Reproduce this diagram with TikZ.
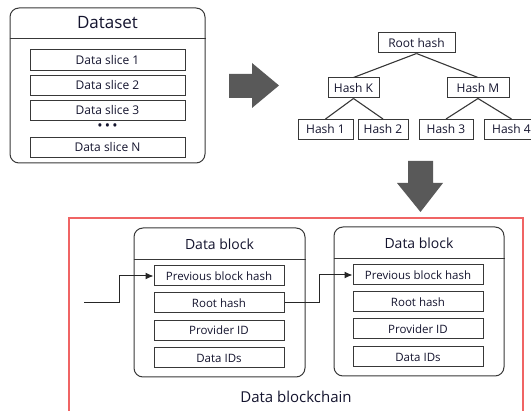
\documentclass[tikz,border=0pt]{standalone}
\usepackage{fontspec}
\setmainfont{Open Sans}
\usetikzlibrary{arrows.meta}
\definecolor{txt}{HTML}{14142E}
\definecolor{bord}{HTML}{383838}
\definecolor{afill}{HTML}{595959}
\definecolor{redframe}{HTML}{F06464}
\tikzset{
  x=1pt, y=-1pt,
  every node/.style={text=txt, inner sep=0pt},
  fieldbox/.style={draw=bord, line width=1pt, minimum width=#1, minimum height=20pt, font=\fontsize{11.5}{12}\selectfont},
  fieldbox/.default=130pt,
  slicebox/.style={draw=bord, line width=1pt, minimum width=155pt, minimum height=20.5pt, font=\fontsize{12}{13}\selectfont},
  hashbox/.style={draw=bord, line width=1pt, minimum height=20pt, font=\fontsize{12}{13}\selectfont},
  outerbox/.style={draw=bord, line width=1pt, rounded corners=9pt},
  treeline/.style={draw=bord, line width=1.1pt},
  conn/.style={draw=black!85, line width=1pt},
  bigarrow/.style={fill=afill, draw=none},
}
\begin{document}
\begin{tikzpicture}
\useasboundingbox (0,0) rectangle (531,411);
% ---------- Dataset ----------
\node[outerbox, minimum width=195pt, minimum height=155pt] (ds) at (107.5,85.5) {};
\node[font=\fontsize{17}{18}\selectfont] (dst) at (107.5,23) {Dataset};
\draw[draw=bord, line width=1pt] (ds.west |- 0,39) -- (ds.east |- 0,39);
\node[slicebox] (s1) at (107.5,60) {Data slice 1};
\node[slicebox] (s2) at (107.5,85.5) {Data slice 2};
\node[slicebox] (s3) at (107.5,110.5) {Data slice 3};
\node[font=\fontsize{14}{14}\selectfont] (dots) at (107.5,127.5) {\textbullet\,\textbullet\,\textbullet};
\node[slicebox] (sN) at (107.5,147.5) {Data slice N};
% ---------- big arrows ----------
\fill[bigarrow] (229,74) -- (252,74) -- (252,63) -- (279,85.5) -- (252,108) -- (252,98) -- (229,98) -- cycle;
\fill[bigarrow] (408,161) -- (433,161) -- (433,183) -- (443,183) -- (420.5,212) -- (397,183) -- (408,183) -- cycle;
% ---------- Merkle tree ----------
\node[hashbox, minimum width=77pt] (root) at (416.5,43) {Root hash};
\node[hashbox, minimum width=51pt] (hk) at (353.5,88) {Hash K};
\node[hashbox, minimum width=62pt] (hm) at (478,88) {Hash M};
\node[hashbox, minimum width=55pt] (h1) at (325.5,129.5) {Hash 1};
\node[hashbox, minimum width=50pt] (h2) at (383,129.5) {Hash 2};
\node[hashbox, minimum width=54pt] (h3) at (446,129.5) {Hash 3};
\node[hashbox, minimum width=54pt, anchor=west] (h4) at (484,129.5) {Hash 4};
\draw[treeline] (root.south) -- (hk.north);
\draw[treeline] (root.south) -- (hm.north);
\draw[treeline] (hk.south) -- (h1.north);
\draw[treeline] (hk.south) -- (h2.north);
\draw[treeline] (hm.south) -- (h3.north);
\draw[treeline] (hm.south) -- (h4.north);
% ---------- Blockchain ----------
\draw[draw=redframe, line width=1.2pt] (69,218) rectangle (523,416);
\node[font=\fontsize{15}{16}\selectfont] (chain) at (296,397) {Data blockchain};
% block 1
\node[outerbox, minimum width=171pt, minimum height=149pt] (b1) at (219.5,302.5) {};
\node[font=\fontsize{14}{15}\selectfont] (b1t) at (219.5,244) {Data block};
\draw[draw=bord, line width=1pt] (b1.west |- 0,260) -- (b1.east |- 0,260);
\node[fieldbox] (p1) at (219,276) {Previous block hash};
\node[fieldbox] (r1) at (219,303) {Root hash};
\node[fieldbox] (v1) at (219,330.5) {Provider ID};
\node[fieldbox] (d1) at (219,358) {Data IDs};
% block 2
\node[outerbox, minimum width=170pt, minimum height=149pt] (b2) at (419,301.5) {};
\node[font=\fontsize{14}{15}\selectfont] (b2t) at (419,243) {Data block};
\draw[draw=bord, line width=1pt] (b2.west |- 0,259) -- (b2.east |- 0,259);
\node[fieldbox] (p2) at (418,275) {Previous block hash};
\node[fieldbox] (r2) at (418,302) {Root hash};
\node[fieldbox] (v2) at (418,329) {Provider ID};
\node[fieldbox] (d2) at (418,357) {Data IDs};
% connectors
\coordinate (inA) at (84,303);
\draw[conn, -{Latex[length=8pt,width=7pt]}] (inA) -- (119,303) |- (p1.west);
\draw[conn, -{Latex[length=8pt,width=7pt]}] (r1.east) -- ++(35,0) |- (p2.west);
\end{tikzpicture}
\end{document}
